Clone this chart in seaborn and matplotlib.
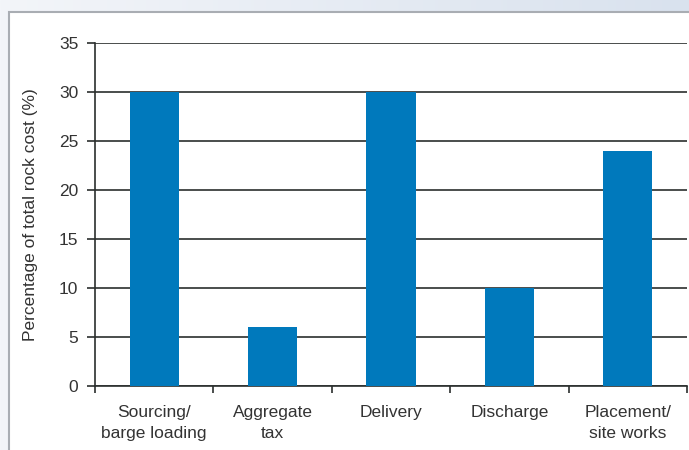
import numpy as np
import pandas as pd
import matplotlib
matplotlib.use("Agg")
import matplotlib.pyplot as plt
from matplotlib.patches import Rectangle
from matplotlib.colors import LinearSegmentedColormap
import seaborn as sns

categories = ["Sourcing/\nbarge loading", "Aggregate\ntax", "Delivery", "Discharge", "Placement/\nsite works"]
values = [30, 6, 30, 10, 24]
yticks = [0, 5, 10, 15, 20, 25, 30, 35]
ylabel = "Percentage of total rock cost (%)"

sns.set_style("white")
plt.rcParams['font.family'] = ['Liberation Sans', 'DejaVu Sans']

W, H = 689, 450
fig = plt.figure(figsize=(W / 100, H / 100), dpi=100)

# background gradient
bg = fig.add_axes([0, 0, 1, 1], zorder=-10)
grad = np.linspace(0, 1, 256)[None, :]
cmap = LinearSegmentedColormap.from_list("bgc", ["#f3f5f9", "#d9e2ee"])
bg.imshow(grad, aspect="auto", cmap=cmap, extent=[0, 1, 0, 1])
bg.set_axis_off()
bg.add_patch(Rectangle((9 / W, -0.05), 1.0, 1 - 12 / H + 0.05, transform=bg.transAxes,
                       facecolor="white", edgecolor="#a9adb3", linewidth=1.5))
bg.set_xlim(0, 1)
bg.set_ylim(0, 1)

ax = fig.add_axes([95 / W, 1 - 386 / H, (687 - 95) / W, (386 - 43) / H])
ax.set_facecolor("none")
df = pd.DataFrame({"cat": categories, "val": values})
sns.barplot(data=df, x="cat", y="val", color="#0079BC", saturation=1, width=0.415,
            linewidth=0, edgecolor="none", ax=ax, zorder=3)

ax.set_ylim(0, 35)
ax.set_xlim(-0.5, 4.5)
ax.set_yticks(yticks)
ax.yaxis.grid(True, color="#2b2f2e", linewidth=1.2, zorder=0)
ax.set_axisbelow(True)
for s in ["top", "right"]:
    ax.spines[s].set_visible(False)
for s in ["left", "bottom"]:
    ax.spines[s].set_color("#2b2f2e")
    ax.spines[s].set_linewidth(1.2)

fs = 12.5
ax.tick_params(axis="y", which="major", length=6, width=1.2, color="#2b2f2e", direction="out",
               labelsize=fs, labelcolor="#333333", pad=6, left=True)
ax.set_xticks(range(len(categories)))
ax.set_xticklabels(categories, linespacing=1.45)
ax.tick_params(axis="x", which="major", length=0, labelsize=fs, labelcolor="#333333", pad=14)
ax.set_xticks(np.arange(-0.5, len(categories), 1.0), minor=True)
ax.tick_params(axis="x", which="minor", length=5, width=1.2, color="#2b2f2e", direction="out", bottom=True)

ax.set_xlabel("")
ax.set_ylabel(ylabel, fontsize=fs, color="#333333", labelpad=15)

fig.savefig("out.png", dpi=100)
